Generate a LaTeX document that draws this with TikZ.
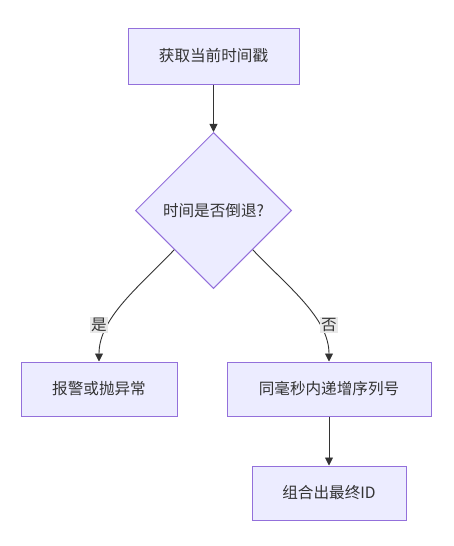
\documentclass[tikz,border=0pt]{standalone}
\usepackage{fontspec}
\setmainfont{Noto Sans CJK SC}
\usetikzlibrary{shapes.geometric,arrows.meta}
\definecolor{boxfill}{HTML}{ECECFF}
\definecolor{boxline}{HTML}{9370DB}
\definecolor{txt}{HTML}{333333}
\definecolor{edgecol}{HTML}{333333}
\definecolor{lblbg}{HTML}{E8E8E8}
\begin{document}
\begin{tikzpicture}[x=1pt,y=-1pt,
  proc/.style={draw=boxline, fill=boxfill, line width=1pt, text=txt,
    font=\fontsize{15.6}{18}\selectfont, inner sep=0pt, minimum height=55pt},
  dec/.style={diamond, draw=boxline, fill=boxfill, line width=1pt, text=txt,
    font=\fontsize{15.6}{18}\selectfont, inner sep=0pt, minimum width=156pt, minimum height=156pt},
  conn/.style={draw=edgecol, line width=0.9pt, -{Triangle[length=8pt,width=8pt]}},
  lbl/.style={fill=lblbg, text=txt, font=\fontsize{15.6}{18}\selectfont, inner sep=1.5pt}]
\useasboundingbox[fill=white] (0,0) rectangle (454,546);
\node[proc, minimum width=171pt, minimum height=56pt] (a) at (213.5,56) {获取当前时间戳};
\node[dec] (b) at (213.5,210.5) {时间是否倒退?};
\node[proc, minimum width=156pt, minimum height=54pt] (c) at (99,389) {报警或抛异常};
\node[proc, minimum width=204pt, minimum height=54pt] (d) at (329,389) {同毫秒内递增序列号};
\node[proc, minimum width=154pt, minimum height=54pt] (e) at (329,493) {组合出最终ID};
\draw[conn] (a) -- (b);
\draw[conn] (b.south west) .. controls +(-34,36) and +(0,-44) .. (c.north);
\draw[conn] (b.south east) .. controls +(34,36) and +(0,-44) .. (d.north);
\draw[conn] (d) -- (e);
\node[lbl] (yes) at (99,325) {是};
\node[lbl] (no) at (329,325) {否};
\end{tikzpicture}
\end{document}
